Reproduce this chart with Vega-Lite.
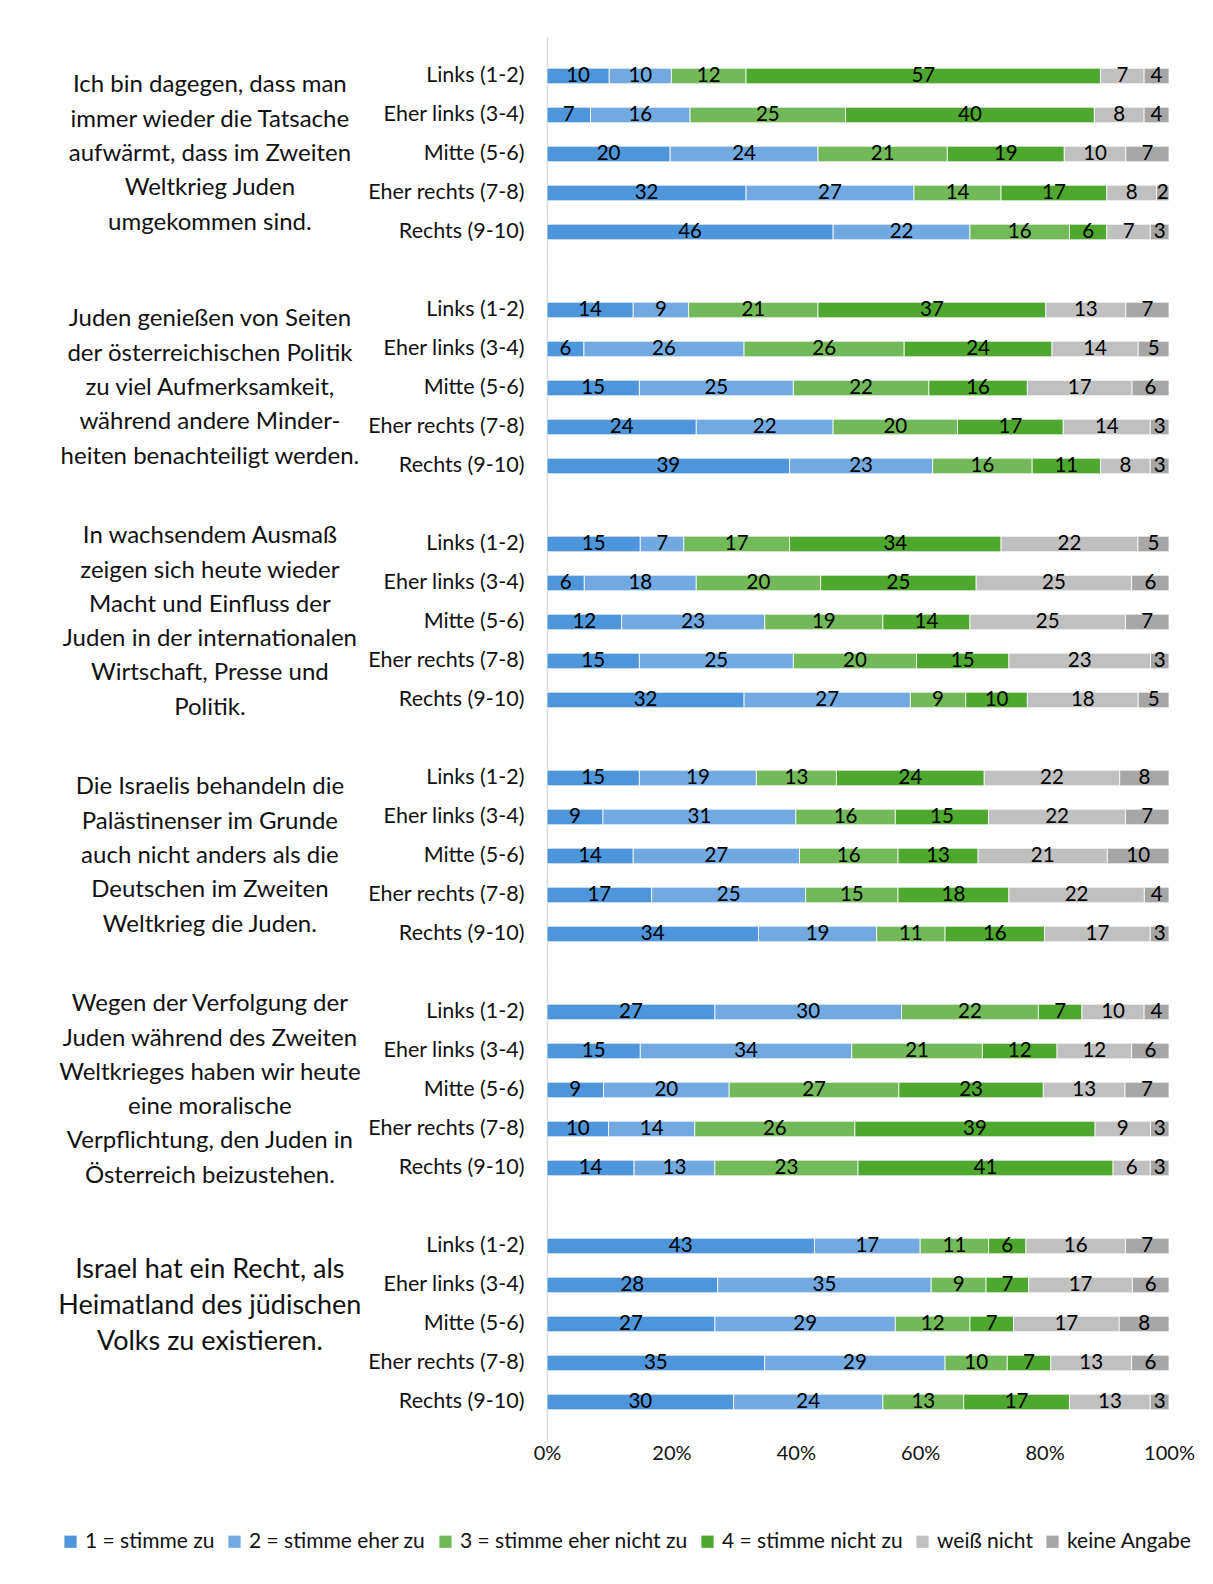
{
  "$schema": "https://vega.github.io/schema/vega-lite/v6.json",
  "background": "white",
  "padding": {"left": 58, "top": 37, "right": 10, "bottom": 10},
  "bounds": "flush",
  "config": {
    "font": "Lato",
    "view": {"stroke": null},
    "facet": {"spacing": 0},
    "legend": {"layout": {"bottom": {"anchor": "middle"}}}
  },
  "data": {"values": [
    {"s": 1, "k": 0, "line": "Ich bin dagegen, dass man"}, {"s": 1, "k": 1, "line": "immer wieder die Tatsache"}, {"s": 1, "k": 2, "line": "aufwärmt, dass im Zweiten"}, {"s": 1, "k": 3, "line": "Weltkrieg Juden"}, {"s": 1, "k": 4, "line": "umgekommen sind."},
    {"s": 2, "k": 0, "line": "Juden genießen von Seiten"}, {"s": 2, "k": 1, "line": "der österreichischen Politik"}, {"s": 2, "k": 2, "line": "zu viel Aufmerksamkeit,"}, {"s": 2, "k": 3, "line": "während andere Minder-"}, {"s": 2, "k": 4, "line": "heiten benachteiligt werden."},
    {"s": 3, "k": 0, "line": "In wachsendem Ausmaß"}, {"s": 3, "k": 1, "line": "zeigen sich heute wieder"}, {"s": 3, "k": 2, "line": "Macht und Einfluss der"}, {"s": 3, "k": 3, "line": "Juden in der internationalen"}, {"s": 3, "k": 4, "line": "Wirtschaft, Presse und"}, {"s": 3, "k": 5, "line": "Politik."},
    {"s": 4, "k": 0, "line": "Die Israelis behandeln die"}, {"s": 4, "k": 1, "line": "Palästinenser im Grunde"}, {"s": 4, "k": 2, "line": "auch nicht anders als die"}, {"s": 4, "k": 3, "line": "Deutschen im Zweiten"}, {"s": 4, "k": 4, "line": "Weltkrieg die Juden."},
    {"s": 5, "k": 0, "line": "Wegen der Verfolgung der"}, {"s": 5, "k": 1, "line": "Juden während des Zweiten"}, {"s": 5, "k": 2, "line": "Weltkrieges haben wir heute"}, {"s": 5, "k": 3, "line": "eine moralische"}, {"s": 5, "k": 4, "line": "Verpflichtung, den Juden in"}, {"s": 5, "k": 5, "line": "Österreich beizustehen."},
    {"s": 6, "k": 0, "line": "Israel hat ein Recht, als"}, {"s": 6, "k": 1, "line": "Heimatland des jüdischen"}, {"s": 6, "k": 2, "line": "Volks zu existieren."},

    {"s": 1, "g": "Links (1-2)", "c": 1, "v": 10}, {"s": 1, "g": "Links (1-2)", "c": 2, "v": 10}, {"s": 1, "g": "Links (1-2)", "c": 3, "v": 12}, {"s": 1, "g": "Links (1-2)", "c": 4, "v": 57}, {"s": 1, "g": "Links (1-2)", "c": 5, "v": 7}, {"s": 1, "g": "Links (1-2)", "c": 6, "v": 4},
    {"s": 1, "g": "Eher links (3-4)", "c": 1, "v": 7}, {"s": 1, "g": "Eher links (3-4)", "c": 2, "v": 16}, {"s": 1, "g": "Eher links (3-4)", "c": 3, "v": 25}, {"s": 1, "g": "Eher links (3-4)", "c": 4, "v": 40}, {"s": 1, "g": "Eher links (3-4)", "c": 5, "v": 8}, {"s": 1, "g": "Eher links (3-4)", "c": 6, "v": 4},
    {"s": 1, "g": "Mitte (5-6)", "c": 1, "v": 20}, {"s": 1, "g": "Mitte (5-6)", "c": 2, "v": 24}, {"s": 1, "g": "Mitte (5-6)", "c": 3, "v": 21}, {"s": 1, "g": "Mitte (5-6)", "c": 4, "v": 19}, {"s": 1, "g": "Mitte (5-6)", "c": 5, "v": 10}, {"s": 1, "g": "Mitte (5-6)", "c": 6, "v": 7},
    {"s": 1, "g": "Eher rechts (7-8)", "c": 1, "v": 32}, {"s": 1, "g": "Eher rechts (7-8)", "c": 2, "v": 27}, {"s": 1, "g": "Eher rechts (7-8)", "c": 3, "v": 14}, {"s": 1, "g": "Eher rechts (7-8)", "c": 4, "v": 17}, {"s": 1, "g": "Eher rechts (7-8)", "c": 5, "v": 8}, {"s": 1, "g": "Eher rechts (7-8)", "c": 6, "v": 2},
    {"s": 1, "g": "Rechts (9-10)", "c": 1, "v": 46}, {"s": 1, "g": "Rechts (9-10)", "c": 2, "v": 22}, {"s": 1, "g": "Rechts (9-10)", "c": 3, "v": 16}, {"s": 1, "g": "Rechts (9-10)", "c": 4, "v": 6}, {"s": 1, "g": "Rechts (9-10)", "c": 5, "v": 7}, {"s": 1, "g": "Rechts (9-10)", "c": 6, "v": 3},

    {"s": 2, "g": "Links (1-2)", "c": 1, "v": 14}, {"s": 2, "g": "Links (1-2)", "c": 2, "v": 9}, {"s": 2, "g": "Links (1-2)", "c": 3, "v": 21}, {"s": 2, "g": "Links (1-2)", "c": 4, "v": 37}, {"s": 2, "g": "Links (1-2)", "c": 5, "v": 13}, {"s": 2, "g": "Links (1-2)", "c": 6, "v": 7},
    {"s": 2, "g": "Eher links (3-4)", "c": 1, "v": 6}, {"s": 2, "g": "Eher links (3-4)", "c": 2, "v": 26}, {"s": 2, "g": "Eher links (3-4)", "c": 3, "v": 26}, {"s": 2, "g": "Eher links (3-4)", "c": 4, "v": 24}, {"s": 2, "g": "Eher links (3-4)", "c": 5, "v": 14}, {"s": 2, "g": "Eher links (3-4)", "c": 6, "v": 5},
    {"s": 2, "g": "Mitte (5-6)", "c": 1, "v": 15}, {"s": 2, "g": "Mitte (5-6)", "c": 2, "v": 25}, {"s": 2, "g": "Mitte (5-6)", "c": 3, "v": 22}, {"s": 2, "g": "Mitte (5-6)", "c": 4, "v": 16}, {"s": 2, "g": "Mitte (5-6)", "c": 5, "v": 17}, {"s": 2, "g": "Mitte (5-6)", "c": 6, "v": 6},
    {"s": 2, "g": "Eher rechts (7-8)", "c": 1, "v": 24}, {"s": 2, "g": "Eher rechts (7-8)", "c": 2, "v": 22}, {"s": 2, "g": "Eher rechts (7-8)", "c": 3, "v": 20}, {"s": 2, "g": "Eher rechts (7-8)", "c": 4, "v": 17}, {"s": 2, "g": "Eher rechts (7-8)", "c": 5, "v": 14}, {"s": 2, "g": "Eher rechts (7-8)", "c": 6, "v": 3},
    {"s": 2, "g": "Rechts (9-10)", "c": 1, "v": 39}, {"s": 2, "g": "Rechts (9-10)", "c": 2, "v": 23}, {"s": 2, "g": "Rechts (9-10)", "c": 3, "v": 16}, {"s": 2, "g": "Rechts (9-10)", "c": 4, "v": 11}, {"s": 2, "g": "Rechts (9-10)", "c": 5, "v": 8}, {"s": 2, "g": "Rechts (9-10)", "c": 6, "v": 3},

    {"s": 3, "g": "Links (1-2)", "c": 1, "v": 15}, {"s": 3, "g": "Links (1-2)", "c": 2, "v": 7}, {"s": 3, "g": "Links (1-2)", "c": 3, "v": 17}, {"s": 3, "g": "Links (1-2)", "c": 4, "v": 34}, {"s": 3, "g": "Links (1-2)", "c": 5, "v": 22}, {"s": 3, "g": "Links (1-2)", "c": 6, "v": 5},
    {"s": 3, "g": "Eher links (3-4)", "c": 1, "v": 6}, {"s": 3, "g": "Eher links (3-4)", "c": 2, "v": 18}, {"s": 3, "g": "Eher links (3-4)", "c": 3, "v": 20}, {"s": 3, "g": "Eher links (3-4)", "c": 4, "v": 25}, {"s": 3, "g": "Eher links (3-4)", "c": 5, "v": 25}, {"s": 3, "g": "Eher links (3-4)", "c": 6, "v": 6},
    {"s": 3, "g": "Mitte (5-6)", "c": 1, "v": 12}, {"s": 3, "g": "Mitte (5-6)", "c": 2, "v": 23}, {"s": 3, "g": "Mitte (5-6)", "c": 3, "v": 19}, {"s": 3, "g": "Mitte (5-6)", "c": 4, "v": 14}, {"s": 3, "g": "Mitte (5-6)", "c": 5, "v": 25}, {"s": 3, "g": "Mitte (5-6)", "c": 6, "v": 7},
    {"s": 3, "g": "Eher rechts (7-8)", "c": 1, "v": 15}, {"s": 3, "g": "Eher rechts (7-8)", "c": 2, "v": 25}, {"s": 3, "g": "Eher rechts (7-8)", "c": 3, "v": 20}, {"s": 3, "g": "Eher rechts (7-8)", "c": 4, "v": 15}, {"s": 3, "g": "Eher rechts (7-8)", "c": 5, "v": 23}, {"s": 3, "g": "Eher rechts (7-8)", "c": 6, "v": 3},
    {"s": 3, "g": "Rechts (9-10)", "c": 1, "v": 32}, {"s": 3, "g": "Rechts (9-10)", "c": 2, "v": 27}, {"s": 3, "g": "Rechts (9-10)", "c": 3, "v": 9}, {"s": 3, "g": "Rechts (9-10)", "c": 4, "v": 10}, {"s": 3, "g": "Rechts (9-10)", "c": 5, "v": 18}, {"s": 3, "g": "Rechts (9-10)", "c": 6, "v": 5},

    {"s": 4, "g": "Links (1-2)", "c": 1, "v": 15}, {"s": 4, "g": "Links (1-2)", "c": 2, "v": 19}, {"s": 4, "g": "Links (1-2)", "c": 3, "v": 13}, {"s": 4, "g": "Links (1-2)", "c": 4, "v": 24}, {"s": 4, "g": "Links (1-2)", "c": 5, "v": 22}, {"s": 4, "g": "Links (1-2)", "c": 6, "v": 8},
    {"s": 4, "g": "Eher links (3-4)", "c": 1, "v": 9}, {"s": 4, "g": "Eher links (3-4)", "c": 2, "v": 31}, {"s": 4, "g": "Eher links (3-4)", "c": 3, "v": 16}, {"s": 4, "g": "Eher links (3-4)", "c": 4, "v": 15}, {"s": 4, "g": "Eher links (3-4)", "c": 5, "v": 22}, {"s": 4, "g": "Eher links (3-4)", "c": 6, "v": 7},
    {"s": 4, "g": "Mitte (5-6)", "c": 1, "v": 14}, {"s": 4, "g": "Mitte (5-6)", "c": 2, "v": 27}, {"s": 4, "g": "Mitte (5-6)", "c": 3, "v": 16}, {"s": 4, "g": "Mitte (5-6)", "c": 4, "v": 13}, {"s": 4, "g": "Mitte (5-6)", "c": 5, "v": 21}, {"s": 4, "g": "Mitte (5-6)", "c": 6, "v": 10},
    {"s": 4, "g": "Eher rechts (7-8)", "c": 1, "v": 17}, {"s": 4, "g": "Eher rechts (7-8)", "c": 2, "v": 25}, {"s": 4, "g": "Eher rechts (7-8)", "c": 3, "v": 15}, {"s": 4, "g": "Eher rechts (7-8)", "c": 4, "v": 18}, {"s": 4, "g": "Eher rechts (7-8)", "c": 5, "v": 22}, {"s": 4, "g": "Eher rechts (7-8)", "c": 6, "v": 4},
    {"s": 4, "g": "Rechts (9-10)", "c": 1, "v": 34}, {"s": 4, "g": "Rechts (9-10)", "c": 2, "v": 19}, {"s": 4, "g": "Rechts (9-10)", "c": 3, "v": 11}, {"s": 4, "g": "Rechts (9-10)", "c": 4, "v": 16}, {"s": 4, "g": "Rechts (9-10)", "c": 5, "v": 17}, {"s": 4, "g": "Rechts (9-10)", "c": 6, "v": 3},

    {"s": 5, "g": "Links (1-2)", "c": 1, "v": 27}, {"s": 5, "g": "Links (1-2)", "c": 2, "v": 30}, {"s": 5, "g": "Links (1-2)", "c": 3, "v": 22}, {"s": 5, "g": "Links (1-2)", "c": 4, "v": 7}, {"s": 5, "g": "Links (1-2)", "c": 5, "v": 10}, {"s": 5, "g": "Links (1-2)", "c": 6, "v": 4},
    {"s": 5, "g": "Eher links (3-4)", "c": 1, "v": 15}, {"s": 5, "g": "Eher links (3-4)", "c": 2, "v": 34}, {"s": 5, "g": "Eher links (3-4)", "c": 3, "v": 21}, {"s": 5, "g": "Eher links (3-4)", "c": 4, "v": 12}, {"s": 5, "g": "Eher links (3-4)", "c": 5, "v": 12}, {"s": 5, "g": "Eher links (3-4)", "c": 6, "v": 6},
    {"s": 5, "g": "Mitte (5-6)", "c": 1, "v": 9}, {"s": 5, "g": "Mitte (5-6)", "c": 2, "v": 20}, {"s": 5, "g": "Mitte (5-6)", "c": 3, "v": 27}, {"s": 5, "g": "Mitte (5-6)", "c": 4, "v": 23}, {"s": 5, "g": "Mitte (5-6)", "c": 5, "v": 13}, {"s": 5, "g": "Mitte (5-6)", "c": 6, "v": 7},
    {"s": 5, "g": "Eher rechts (7-8)", "c": 1, "v": 10}, {"s": 5, "g": "Eher rechts (7-8)", "c": 2, "v": 14}, {"s": 5, "g": "Eher rechts (7-8)", "c": 3, "v": 26}, {"s": 5, "g": "Eher rechts (7-8)", "c": 4, "v": 39}, {"s": 5, "g": "Eher rechts (7-8)", "c": 5, "v": 9}, {"s": 5, "g": "Eher rechts (7-8)", "c": 6, "v": 3},
    {"s": 5, "g": "Rechts (9-10)", "c": 1, "v": 14}, {"s": 5, "g": "Rechts (9-10)", "c": 2, "v": 13}, {"s": 5, "g": "Rechts (9-10)", "c": 3, "v": 23}, {"s": 5, "g": "Rechts (9-10)", "c": 4, "v": 41}, {"s": 5, "g": "Rechts (9-10)", "c": 5, "v": 6}, {"s": 5, "g": "Rechts (9-10)", "c": 6, "v": 3},

    {"s": 6, "g": "Links (1-2)", "c": 1, "v": 43}, {"s": 6, "g": "Links (1-2)", "c": 2, "v": 17}, {"s": 6, "g": "Links (1-2)", "c": 3, "v": 11}, {"s": 6, "g": "Links (1-2)", "c": 4, "v": 6}, {"s": 6, "g": "Links (1-2)", "c": 5, "v": 16}, {"s": 6, "g": "Links (1-2)", "c": 6, "v": 7},
    {"s": 6, "g": "Eher links (3-4)", "c": 1, "v": 28}, {"s": 6, "g": "Eher links (3-4)", "c": 2, "v": 35}, {"s": 6, "g": "Eher links (3-4)", "c": 3, "v": 9}, {"s": 6, "g": "Eher links (3-4)", "c": 4, "v": 7}, {"s": 6, "g": "Eher links (3-4)", "c": 5, "v": 17}, {"s": 6, "g": "Eher links (3-4)", "c": 6, "v": 6},
    {"s": 6, "g": "Mitte (5-6)", "c": 1, "v": 27}, {"s": 6, "g": "Mitte (5-6)", "c": 2, "v": 29}, {"s": 6, "g": "Mitte (5-6)", "c": 3, "v": 12}, {"s": 6, "g": "Mitte (5-6)", "c": 4, "v": 7}, {"s": 6, "g": "Mitte (5-6)", "c": 5, "v": 17}, {"s": 6, "g": "Mitte (5-6)", "c": 6, "v": 8},
    {"s": 6, "g": "Eher rechts (7-8)", "c": 1, "v": 35}, {"s": 6, "g": "Eher rechts (7-8)", "c": 2, "v": 29}, {"s": 6, "g": "Eher rechts (7-8)", "c": 3, "v": 10}, {"s": 6, "g": "Eher rechts (7-8)", "c": 4, "v": 7}, {"s": 6, "g": "Eher rechts (7-8)", "c": 5, "v": 13}, {"s": 6, "g": "Eher rechts (7-8)", "c": 6, "v": 6},
    {"s": 6, "g": "Rechts (9-10)", "c": 1, "v": 30}, {"s": 6, "g": "Rechts (9-10)", "c": 2, "v": 24}, {"s": 6, "g": "Rechts (9-10)", "c": 3, "v": 13}, {"s": 6, "g": "Rechts (9-10)", "c": 4, "v": 17}, {"s": 6, "g": "Rechts (9-10)", "c": 5, "v": 13}, {"s": 6, "g": "Rechts (9-10)", "c": 6, "v": 3}
  ]},
  "transform": [
    {"lookup": "c", "from": {"data": {"values": [
      {"c": 1, "cat": "1 = stimme zu"}, {"c": 2, "cat": "2 = stimme eher zu"}, {"c": 3, "cat": "3 = stimme eher nicht zu"}, {"c": 4, "cat": "4 = stimme nicht zu"}, {"c": 5, "cat": "weiß nicht"}, {"c": 6, "cat": "keine Angabe"}
    ]}, "key": "c", "fields": ["cat"]}},
    {"stack": "v", "groupby": ["s", "g"], "sort": [{"field": "c", "order": "ascending"}], "offset": "normalize", "as": ["x0", "x1"]},
    {"calculate": "(datum.x0 + datum.x1) / 2", "as": "xm"},
    {"joinaggregate": [{"op": "valid", "field": "line", "as": "n"}], "groupby": ["s"]},
    {"calculate": "datum.k - (datum.n - 1) / 2", "as": "off"}
  ],
  "facet": {
    "row": {"field": "s", "type": "ordinal", "title": null, "header": null}
  },
  "spec": {
    "width": 622,
    "height": 234,
    "resolve": {"scale": {"yOffset": "independent"}},
    "layer": [
      {
        "transform": [{"filter": "isValid(datum.g)"}],
        "mark": {"type": "bar", "stroke": "white", "strokeWidth": 0.8},
        "encoding": {
          "y": {"field": "g", "type": "nominal", "title": null,
            "sort": ["Links (1-2)", "Eher links (3-4)", "Mitte (5-6)", "Eher rechts (7-8)", "Rechts (9-10)"],
            "scale": {"domain": ["Links (1-2)", "Eher links (3-4)", "Mitte (5-6)", "Eher rechts (7-8)", "Rechts (9-10)"], "paddingInner": 0.6, "paddingOuter": 0.8},
            "axis": {"ticks": false, "domainColor": "#d9d9d9", "domainWidth": 1.5, "labelFontSize": 21.5, "labelColor": "#111", "labelPadding": 23, "labelFont": "Lato"}},
          "x": {"field": "x0", "type": "quantitative", "scale": {"domain": [0, 1], "nice": false, "zero": false},
            "axis": {"format": "%", "values": [0, 0.2, 0.4, 0.6, 0.8, 1], "grid": false, "domain": false, "ticks": false, "labelFlush": false, "labelFontSize": 20, "labelColor": "#111", "labelPadding": 2, "title": null, "labelFont": "Lato"}},
          "x2": {"field": "x1"},
          "color": {"field": "cat", "type": "nominal",
            "scale": {"domain": ["1 = stimme zu", "2 = stimme eher zu", "3 = stimme eher nicht zu", "4 = stimme nicht zu", "weiß nicht", "keine Angabe"],
              "range": ["#4e95d9", "#72a9e1", "#72b95a", "#4ea72e", "#c0c0c0", "#a6a6a6"]},
            "legend": {"title": null, "orient": "bottom", "direction": "horizontal", "columns": 6, "symbolType": "square", "symbolSize": 150, "symbolStrokeWidth": 0, "labelFontSize": 21, "labelColor": "#111", "labelFont": "Lato", "labelLimit": 400, "columnPadding": 9, "symbolOffset": 0, "labelOffset": 4, "offset": 68}}
        }
      },
      {
        "transform": [{"filter": "isValid(datum.g)"}],
        "mark": {"type": "text", "fontSize": 20.5, "color": "#000", "baseline": "middle", "align": "center", "font": "Lato"},
        "encoding": {
          "y": {"field": "g", "type": "nominal"},
          "x": {"field": "xm", "type": "quantitative", "scale": {"domain": [0, 1], "nice": false, "zero": false}},
          "text": {"field": "v", "type": "quantitative"}
        }
      },
      {
        "transform": [{"filter": "isValid(datum.line) && datum.s != 6"}],
        "mark": {"type": "text", "fontSize": 24, "color": "#111", "baseline": "middle", "align": "center", "font": "Lato"},
        "encoding": {
          "y": {"datum": "Mitte (5-6)", "type": "nominal"},
          "yOffset": {"field": "off", "type": "quantitative", "scale": {"domain": [-1, 1], "range": [-26.5, 42.1]}},
          "x": {"datum": -0.542, "type": "quantitative", "scale": {"domain": [0, 1], "nice": false, "zero": false}},
          "text": {"field": "line", "type": "nominal"}
        }
      },
      {
        "transform": [{"filter": "isValid(datum.line) && datum.s == 6"}],
        "mark": {"type": "text", "fontSize": 27, "color": "#111", "baseline": "middle", "align": "center", "font": "Lato"},
        "encoding": {
          "y": {"datum": "Mitte (5-6)", "type": "nominal"},
          "yOffset": {"field": "off", "type": "quantitative", "scale": {"domain": [-1, 1], "range": [-46.6, 26.2]}},
          "x": {"datum": -0.542, "type": "quantitative", "scale": {"domain": [0, 1], "nice": false, "zero": false}},
          "text": {"field": "line", "type": "nominal"}
        }
      }
    ]
  }
}
